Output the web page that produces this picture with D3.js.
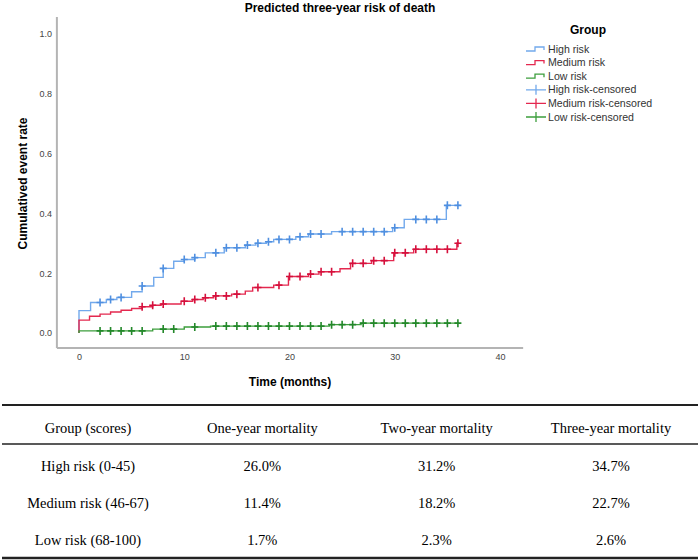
<!DOCTYPE html>
<html>
<head>
<meta charset="utf-8">
<script src="https://cdn.jsdelivr.net/npm/d3@7"></script>
<style>
  body { margin: 0; background: #fff; }
  svg { display: block; }
</style>
</head>
<body>
<svg></svg>
<script>
const width = 700;
const height = 560;

// step points [month, cumulative event rate]
const highSteps = [[0, 0], [0, 0.075], [1.1, 0.102], [2.6, 0.112], [3.6, 0.119], [5.0, 0.138], [6.0, 0.157],
  [7.1, 0.186], [8.0, 0.216], [9.0, 0.240], [10.0, 0.246], [11.0, 0.252], [12.0, 0.268], [13.8, 0.285],
  [15.8, 0.294], [16.8, 0.300], [17.8, 0.305], [18.5, 0.313], [20.6, 0.322], [21.8, 0.331], [24.0, 0.339],
  [29.8, 0.352], [30.9, 0.380], [34.9, 0.427], [36.2, 0.427]];
const mediumSteps = [[0, 0], [0, 0.043], [1.0, 0.056], [2.0, 0.063], [3.0, 0.070], [4.0, 0.076], [5.0, 0.082],
  [6.0, 0.088], [7.0, 0.093], [7.8, 0.097], [9.7, 0.106], [10.8, 0.112], [11.8, 0.118], [12.8, 0.124],
  [14.5, 0.130], [15.8, 0.140], [16.5, 0.152], [18.5, 0.160], [19.9, 0.189], [21.8, 0.197], [22.8, 0.205],
  [24.8, 0.215], [25.8, 0.233], [27.8, 0.242], [29.9, 0.268], [31.8, 0.280], [35.9, 0.300], [36.1, 0.300]];
const lowSteps = [[0, 0], [0, 0.007], [7.0, 0.013], [10.0, 0.020], [12.5, 0.023], [23.8, 0.028],
  [26.8, 0.033], [36.1, 0.033]];

// censored times (months)
const highCensored = [2, 3, 4, 6, 8, 10, 11, 13, 14, 15, 16, 17, 18, 19, 20, 21, 22, 23, 25, 26, 27, 28, 29, 30, 32, 33, 34, 35, 36];
const mediumCensored = [6, 7, 8, 10, 11, 12, 13, 14, 15, 17, 19, 20, 21, 22, 23, 24, 26, 27, 28, 29, 30, 31, 32, 33, 34, 35, 36];
const lowCensored = [2, 3, 4, 5, 6, 8, 9, 11, 13, 14, 15, 16, 17, 18, 19, 20, 21, 22, 23, 24, 25, 26, 27, 28, 29, 30, 31, 32, 33, 34, 35, 36];

const groups = ["High risk", "Medium risk", "Low risk"];
const colors = ["#72a9ec", "#e4284f", "#3d9e3d"];
const markColors = ["#4f8fe0", "#d5103c", "#23882a"];

const yTicks = [0, 0.2, 0.4, 0.6, 0.8, 1.0];
const xTicks = [0, 10, 20, 30, 40];

// table
const tableHeader = ["Group (scores)", "One-year mortality", "Two-year mortality", "Three-year mortality"];
const tableGroups = ["High risk (0-45)", "Medium risk (46-67)", "Low risk (68-100)"];
const oneYear = ["26.0%", "11.4%", "1.7%"];
const twoYear = ["31.2%", "18.2%", "2.3%"];
const threeYear = ["34.7%", "22.7%", "2.6%"];

const svg = d3.select("svg").attr("width", width).attr("height", height);
svg.append("rect").attr("width", width).attr("height", height).attr("fill", "#fff");

const x = d3.scaleLinear().domain([0, 40]).range([79, 500]);
const y = d3.scaleLinear().domain([0, 1]).range([333, 34]);
const xFrame = [-2.1, 42.2];
const yFrame = [-0.05, 1.057];

const sans = "'Liberation Sans', Arial, sans-serif";
const serif = "'Liberation Serif', 'Times New Roman', serif";

// frame
svg.append("line")
  .attr("x1", x(xFrame[0])).attr("x2", x(xFrame[0]))
  .attr("y1", y(yFrame[0])).attr("y2", y(yFrame[1]))
  .attr("stroke", "#b4b4b4").attr("stroke-width", 2);
svg.append("line")
  .attr("x1", x(xFrame[0])).attr("x2", x(xFrame[1]))
  .attr("y1", y(yFrame[0])).attr("y2", y(yFrame[0]))
  .attr("stroke", "#b4b4b4").attr("stroke-width", 2);

const yAxis = svg.append("g")
  .attr("transform", `translate(${x(xFrame[0])},0)`)
  .call(d3.axisLeft(y).tickValues(yTicks).tickFormat(d3.format(".1f")).tickSize(0).tickPadding(5));
yAxis.select(".domain").remove();
yAxis.selectAll("text").attr("font-family", sans).attr("font-size", 9).attr("fill", "#444");

const xAxis = svg.append("g")
  .attr("transform", `translate(0,${y(yFrame[0])})`)
  .call(d3.axisBottom(x).tickValues(xTicks).tickFormat(d3.format("d")).tickSize(0).tickPadding(6));
xAxis.select(".domain").remove();
xAxis.selectAll("text").attr("font-family", sans).attr("font-size", 9).attr("fill", "#444");

// titles
svg.append("text")
  .attr("x", 340).attr("y", 12)
  .attr("text-anchor", "middle")
  .attr("font-family", sans).attr("font-size", 12).attr("font-weight", "bold")
  .text("Predicted three-year risk of death");

svg.append("text")
  .attr("transform", `translate(27,${y(0.5)}) rotate(-90)`)
  .attr("text-anchor", "middle")
  .attr("font-family", sans).attr("font-size", 12).attr("font-weight", "bold")
  .text("Cumulatived event rate");

svg.append("text")
  .attr("x", 290).attr("y", 386)
  .attr("text-anchor", "middle")
  .attr("font-family", sans).attr("font-size", 12).attr("font-weight", "bold")
  .text("Time (months)");

// curves
const line = d3.line()
  .x((d) => x(d[0]))
  .y((d) => y(d[1]))
  .curve(d3.curveStepAfter);

const allSteps = [highSteps, mediumSteps, lowSteps];
const allCensored = [highCensored, mediumCensored, lowCensored];

function valueAt(steps, t) {
  let v = 0;
  steps.forEach((s) => { if (s[0] <= t) v = s[1]; });
  return v;
}

allSteps.forEach((steps, i) => {
  svg.append("path")
    .attr("d", line(steps))
    .attr("fill", "none")
    .attr("stroke", colors[i])
    .attr("stroke-width", 1.4);
});

allCensored.forEach((times, i) => {
  svg.append("g")
    .selectAll("path")
    .data(times)
    .enter()
    .append("path")
    .attr("d", (t) => {
      const cx = x(t);
      const cy = y(valueAt(allSteps[i], t));
      return `M${cx - 3.5},${cy}H${cx + 3.5}M${cx},${cy - 4}V${cy + 4}`;
    })
    .attr("stroke", markColors[i])
    .attr("stroke-width", 1.6);
});

// legend
const legend = svg.append("g").attr("transform", "translate(526,0)");
legend.append("text")
  .attr("x", 62).attr("y", 34)
  .attr("text-anchor", "middle")
  .attr("font-family", sans).attr("font-size", 12).attr("font-weight", "bold")
  .text("Group");

const legendRows = groups.map((g, i) => ({ label: g, color: colors[i], censored: false }))
  .concat(groups.map((g, i) => ({ label: g + "-censored", color: colors[i], censored: true })));

const ly = d3.scalePoint().domain(d3.range(legendRows.length)).range([49, 117]);

legendRows.forEach((r, i) => {
  const cy = ly(i);
  legend.append("path")
    .attr("d", r.censored
      ? `M0,${cy}H20M10,${cy - 5}V${cy + 5}`
      : `M0,${cy + 2}H9V${cy - 2}H18V${cy + 1}`)
    .attr("fill", "none")
    .attr("stroke", r.color)
    .attr("stroke-width", 1.3);
  legend.append("text")
    .attr("x", 22).attr("y", cy + 3.5)
    .attr("font-family", sans).attr("font-size", 10.6).attr("fill", "#333")
    .text(r.label);
});

// table
const colX = d3.scalePoint().domain(tableHeader).range([88, 611]);
const rowY = d3.scalePoint().domain(tableGroups).range([466, 540]);
const tableCols = [tableGroups, oneYear, twoYear, threeYear];

svg.append("line").attr("x1", 2).attr("x2", 698).attr("y1", 405).attr("y2", 405)
  .attr("stroke", "#222").attr("stroke-width", 2);
svg.append("line").attr("x1", 2).attr("x2", 698).attr("y1", 444).attr("y2", 444)
  .attr("stroke", "#222").attr("stroke-width", 1.5);
svg.append("line").attr("x1", 2).attr("x2", 698).attr("y1", 558).attr("y2", 558)
  .attr("stroke", "#222").attr("stroke-width", 2.5);

svg.append("g")
  .selectAll("text")
  .data(tableHeader)
  .enter()
  .append("text")
  .attr("x", (d) => colX(d))
  .attr("y", 433)
  .attr("text-anchor", "middle")
  .attr("font-family", serif).attr("font-size", 14.5).attr("fill", "#000")
  .text((d) => d);

tableCols.forEach((col, c) => {
  svg.append("g")
    .selectAll("text")
    .data(col)
    .enter()
    .append("text")
    .attr("x", colX(tableHeader[c]))
    .attr("y", (d, r) => rowY(tableGroups[r]) + 5)
    .attr("text-anchor", "middle")
    .attr("font-family", serif).attr("font-size", 14.5).attr("fill", "#000")
    .text((d) => d);
});
</script>
</body>
</html>
